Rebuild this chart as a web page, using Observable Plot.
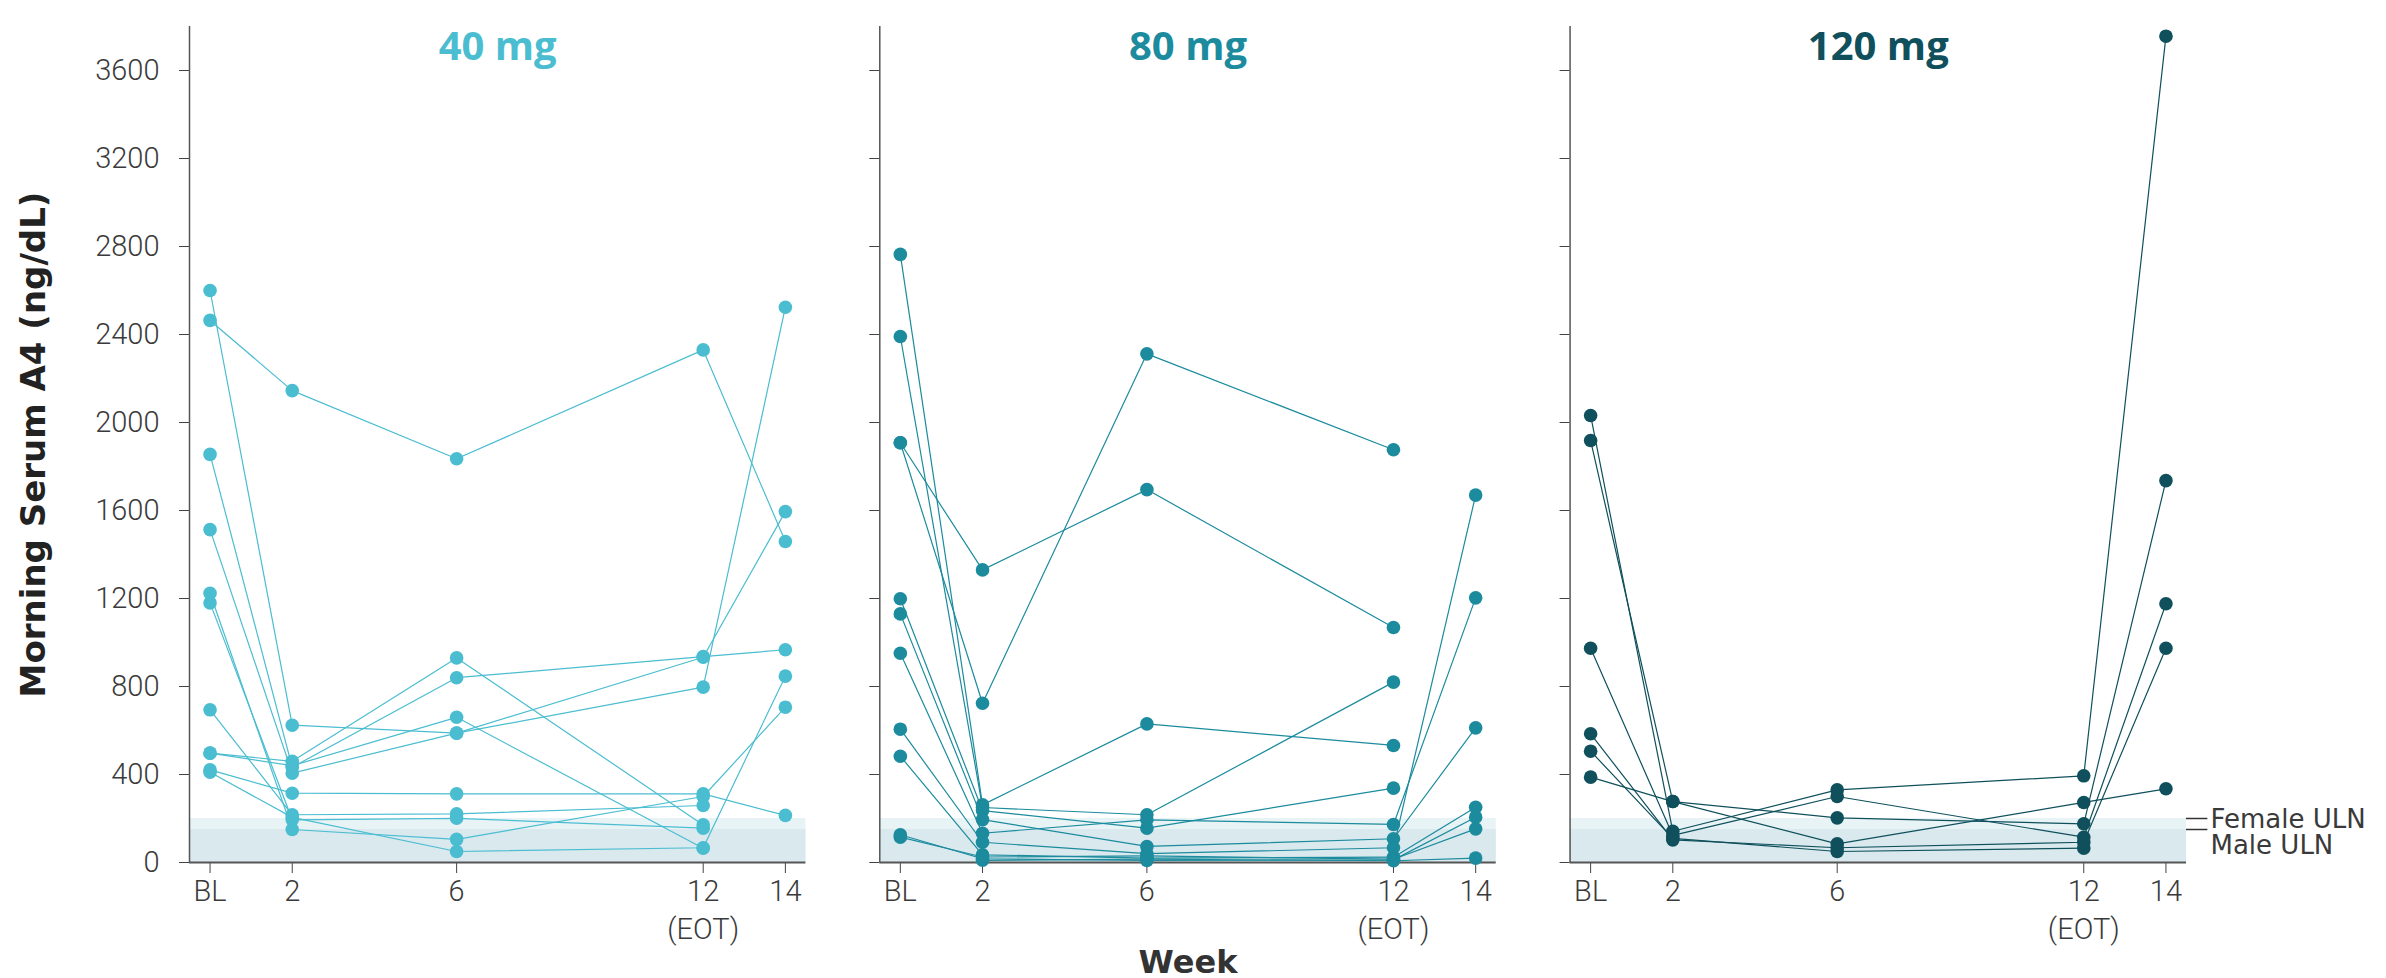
<!DOCTYPE html>
<html><head><meta charset="utf-8">
<script src="https://cdn.jsdelivr.net/npm/d3@7"></script>
<script src="https://cdn.jsdelivr.net/npm/@observablehq/plot@0.6"></script>
<style>
html,body{margin:0;padding:0;background:#fff;}
#chart{width:2386px;height:978px;}
</style></head><body><div id="chart"></div>
<script>
// Weeks on the x axis and their tick labels
const weeks = [0, 2, 6, 12, 14];
const weekLabels = ["BL", "2", "6", "12\n(EOT)", "14"];
const doses = ["40 mg", "80 mg", "120 mg"];
const doseColors = ["#4bbdd1", "#1b8b9d", "#0f505c"];
const yTicks = [0, 400, 800, 1200, 1600, 2000, 2400, 2800, 3200, 3600];
const femaleULN = 200;
const maleULN = 150;

// one row per patient: A4 (ng/dL) at BL, 2, 6, 12 (EOT), 14; null = not shown
const a4_40mg = [
  [2464, 2145, 1835, 2330, 1459],
  [2600, 624, 588, 797, 2524],
  [1855, 433, 840, 936, 967],
  [1513, 406, 588, 933, 1595],
  [497, 460, 930, 171, null],
  [1224, 150, 105, 300, 706],
  [421, 315, 312, 312, 214],
  [694, 217, 221, 259, null],
  [1180, 194, 201, 156, null],
  [410, 205, 50, 67, 847],
  [497, 440, 660, 65, null]
];
const a4_80mg = [
  [1908, 1330, 1695, 1068, null],
  [1908, 724, 2312, 1876, null],
  [2764, 262, 630, 532, null],
  [2391, 250, 217, 820, null],
  [1199, 236, 156, 338, null],
  [1130, 195, 73, 108, 612],
  [951, 133, 194, 173, 1203],
  [606, 92, 40, 67, 1670],
  [483, 35, 20, 24, 251],
  [126, 17, 9, 12, 206],
  [115, 25, 30, 15, 153],
  [null, 10, 15, 8, 20]
];
const a4_120mg = [
  [388, 277, 203, 176, 1736],
  [1918, 277, 85, 273, 335],
  [2032, 142, 330, 394, 3756],
  [974, 123, 300, 115, 1176],
  [585, 103, 67, 92, 974],
  [506, 110, 50, 65, null]
];

const rows = [];
[a4_40mg, a4_80mg, a4_120mg].forEach((subjects, di) =>
  subjects.forEach((vals, si) =>
    vals.forEach((v, wi) => {
      if (v != null) rows.push({dose: doses[di], subject: doses[di] + "-" + si, week: weeks[wi], value: v});
    })));

const boldFont = "'DejaVu Sans', sans-serif";
const titleFont = "'Open Sans', sans-serif";

const chart = Plot.plot({
  width: 2386,
  height: 978,
  marginLeft: 189,
  marginRight: 200,
  marginTop: 26,
  marginBottom: 116,
  style: {fontFamily: "Roboto, sans-serif", fontSize: "29px", fontWeight: 300, color: "#3a3a3a", background: "#fff", overflow: "visible"},
  fx: {domain: doses, paddingInner: 0.107, paddingOuter: 0, round: false, axis: null, label: null},
  x: {domain: [-0.5, 14.5]},
  y: {domain: [0, 3800]},
  color: {domain: doses, range: doseColors},
  marks: [
    Plot.rect([femaleULN], {x1: () => -0.5, x2: () => 14.5, y1: () => 0, y2: d => d, fill: "#e8f3f6"}),
    Plot.rect([maleULN], {x1: () => -0.5, x2: () => 14.5, y1: () => 0, y2: d => d, fill: "#d9e9ee"}),
    Plot.axisY({ticks: yTicks, tickSize: 10, tickPadding: 20, tickFormat: d => String(d), facetAnchor: "left", label: null, stroke: "#444"}),
    Plot.axisY({ticks: yTicks, tickSize: 10, tickFormat: () => "", facetAnchor: null, label: null, stroke: "#444"}),
    Plot.axisX({ticks: weeks, tickFormat: d => weekLabels[weeks.indexOf(d)], tickSize: 11, tickPadding: 0, lineHeight: 1.32, facetAnchor: null, label: null, stroke: "#444"}),
    Plot.ruleX([-0.5], {stroke: "#555", strokeWidth: 1.5}),
    Plot.ruleY([0], {stroke: "#555", strokeWidth: 2.2}),
    Plot.line(rows, {fx: "dose", x: "week", y: "value", z: "subject", stroke: "dose", strokeWidth: 1.2}),
    Plot.dot(rows, {fx: "dose", x: "week", y: "value", fill: "dose", r: 6.8}),
    Plot.text(doses, {fx: d => d, text: d => d, frameAnchor: "top", dy: 5, fill: d => d, fontSize: 40, fontWeight: 700, fontFamily: titleFont}),
    Plot.text([{dose: "40 mg"}], {fx: "dose", frameAnchor: "left", textAnchor: "middle", text: () => "Morning Serum A4 (ng/dL)", rotate: -90, dx: -155, fontFamily: boldFont, fontWeight: 700, fontSize: 34, fill: "#222"}),
    Plot.text([{dose: "80 mg"}], {fx: "dose", frameAnchor: "bottom", text: () => "Week", dy: 110, fontFamily: boldFont, fontWeight: 700, fontSize: 32, fill: "#333"}),
    Plot.ruleY([femaleULN, maleULN], {fx: () => "120 mg", x1: () => 14.5, x2: () => 15.02, y: d => d, stroke: "#333", strokeWidth: 1.5}),
    Plot.text([femaleULN], {fx: () => "120 mg", x: () => 14.5, y: d => d, text: () => "Female ULN", dx: 24, dy: 1, textAnchor: "start", fontFamily: boldFont, fontWeight: 400, fontSize: 26, fill: "#3a3a3a"}),
    Plot.text([maleULN], {fx: () => "120 mg", x: () => 14.5, y: d => d, text: () => "Male ULN", dx: 24, dy: 16, textAnchor: "start", fontFamily: boldFont, fontWeight: 400, fontSize: 26, fill: "#3a3a3a"})
  ]
});
document.getElementById("chart").appendChild(chart);
</script>
</body></html>
